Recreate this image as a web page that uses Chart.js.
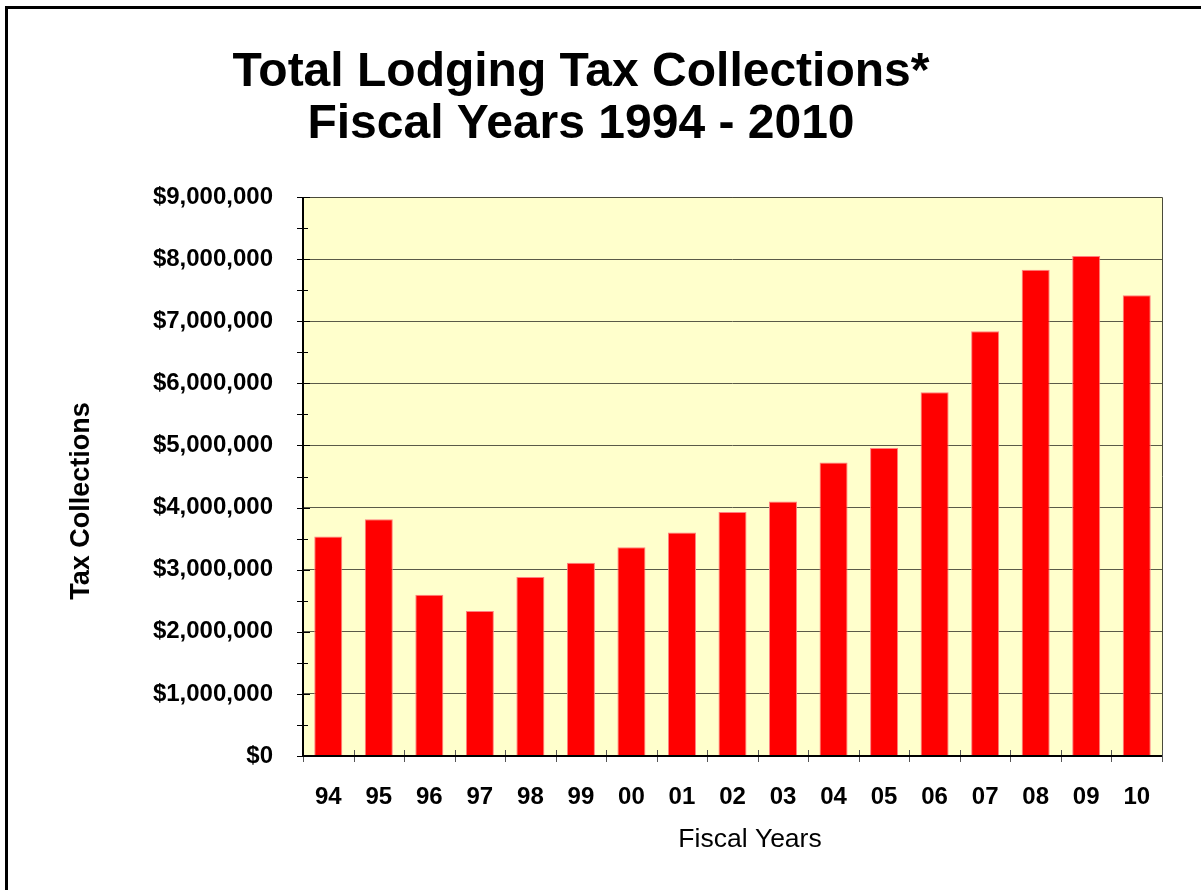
<!DOCTYPE html>
<html>
<head>
<meta charset="utf-8">
<title>Total Lodging Tax Collections</title>
<script src="https://cdn.jsdelivr.net/npm/chart.js@4.4.1/dist/chart.umd.min.js"></script>
<style>
  html, body { margin: 0; padding: 0; background: #fff; }
  canvas { display: block; }
</style>
</head>
<body>
<canvas id="lodgingChart" width="1201" height="890"></canvas>
<script>
const fiscalYears = ['94', '95', '96', '97', '98', '99', '00', '01', '02', '03', '04', '05', '06', '07', '08', '09', '10'];
const taxCollections = [3535000, 3810000, 2595000, 2333000, 2883000, 3112000, 3360000, 3600000, 3930000, 4096000, 4726000, 4960000, 5856000, 6840000, 7830000, 8050000, 7420000];
const titleLines = ['Total Lodging Tax Collections*', 'Fiscal Years 1994 - 2010'];
const xAxisTitle = 'Fiscal Years';
const yAxisTitle = 'Tax Collections';

const fontFamily = "'Liberation Sans', Arial, sans-serif";

// plot background, crossing tick marks, plot border, axis titles and the outer frame
const decorations = {
  id: 'decorations',
  beforeDraw(chart) {
    const { ctx, chartArea } = chart;
    ctx.save();
    ctx.fillStyle = '#FFFFCC';
    ctx.fillRect(chartArea.left, chartArea.top, chartArea.right - chartArea.left, chartArea.bottom - chartArea.top);
    ctx.restore();
  },
  afterDraw(chart) {
    const { ctx, chartArea } = chart;
    const x = chart.scales.x;
    const y = chart.scales.y;
    ctx.save();

    // plot border top/right
    ctx.strokeStyle = '#4a4a3a';
    ctx.lineWidth = 1;
    ctx.beginPath();
    ctx.moveTo(chartArea.left, Math.round(chartArea.top) + 0.5);
    ctx.lineTo(Math.round(chartArea.right) + 0.5, Math.round(chartArea.top) + 0.5);
    ctx.lineTo(Math.round(chartArea.right) + 0.5, chartArea.bottom);
    ctx.stroke();

    // y ticks, major and minor, crossing the axis
    ctx.strokeStyle = '#000';
    ctx.beginPath();
    for (let v = 0; v <= 9000000; v += 500000) {
      const py = Math.round(y.getPixelForValue(v)) + 0.5;
      const len = v % 1000000 === 0 ? 7 : 5;
      ctx.moveTo(chartArea.left - 6, py);
      ctx.lineTo(chartArea.left + len, py);
    }
    ctx.stroke();

    // x ticks at category boundaries
    ctx.strokeStyle = '#555';
    ctx.beginPath();
    for (let i = 0; i <= fiscalYears.length; i++) {
      let px;
      if (i === 0) px = chartArea.left;
      else if (i === fiscalYears.length) px = chartArea.right;
      else px = (x.getPixelForTick(i - 1) + x.getPixelForTick(i)) / 2;
      px = Math.round(px) + 0.5;
      ctx.moveTo(px, chartArea.bottom - 6);
      ctx.lineTo(px, chartArea.bottom + 6);
    }
    ctx.stroke();

    // axis lines
    ctx.strokeStyle = '#000';
    ctx.lineWidth = 2;
    ctx.beginPath();
    ctx.moveTo(chartArea.left, chartArea.top);
    ctx.lineTo(chartArea.left, chartArea.bottom);
    ctx.lineTo(chartArea.right, chartArea.bottom);
    ctx.stroke();

    // axis titles (the original sits a little off the plot centre)
    ctx.fillStyle = '#000';
    ctx.textAlign = 'center';
    ctx.textBaseline = 'middle';
    ctx.font = '26.5px ' + fontFamily;
    ctx.fillText(xAxisTitle, 750, 840);
    ctx.translate(82, 501);
    ctx.rotate(-Math.PI / 2);
    ctx.font = 'bold 27px ' + fontFamily;
    ctx.fillText(yAxisTitle, 0, 0);
    ctx.setTransform(1, 0, 0, 1, 0, 0);

    // outer frame (left and top edges visible)
    ctx.lineWidth = 3;
    ctx.beginPath();
    ctx.moveTo(6.5, chart.height);
    ctx.lineTo(6.5, 7.5);
    ctx.lineTo(chart.width, 7.5);
    ctx.stroke();
    ctx.restore();
  }
};

const ctx = document.getElementById('lodgingChart').getContext('2d');
new Chart(ctx, {
  type: 'bar',
  data: {
    labels: fiscalYears,
    datasets: [{
      data: taxCollections,
      backgroundColor: '#FF0000',
      borderColor: '#FF8080',
      borderWidth: 1,
      categoryPercentage: 1,
      barPercentage: 0.555
    }]
  },
  options: {
    responsive: false,
    animation: false,
    devicePixelRatio: 1,
    layout: { padding: { left: 0, right: 39, top: 6, bottom: 0 } },
    plugins: {
      legend: { display: false },
      tooltip: { enabled: false },
      title: {
        display: true,
        text: titleLines,
        color: '#000',
        font: { family: fontFamily, size: 48, weight: 'bold', lineHeight: 1.1 },
        padding: { top: 40, bottom: 45.4 }
      }
    },
    scales: {
      x: {
        grid: { display: true, drawOnChartArea: false, drawTicks: false, offset: true },
        border: { display: false },
        ticks: {
          color: '#000',
          padding: 27,
          maxRotation: 0,
          font: { family: fontFamily, size: 24, weight: 'bold' }
        },
        afterFit(scale) { scale.height = 134; }
      },
      y: {
        min: 0,
        max: 9000000,
        grid: { color: '#5a5a48', lineWidth: 1, drawTicks: false },
        border: { display: false },
        ticks: {
          stepSize: 1000000,
          color: '#000',
          padding: 30,
          font: { family: fontFamily, size: 24, weight: 'bold' },
          callback: (v) => '$' + Number(v).toLocaleString('en-US')
        },
        afterFit(scale) { scale.width = 303; }
      }
    }
  },
  plugins: [decorations]
});
</script>
</body>
</html>
